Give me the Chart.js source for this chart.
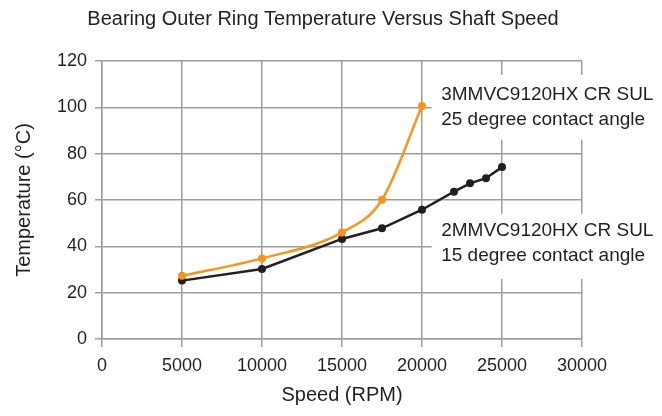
<!DOCTYPE html>
<html>
<head>
<meta charset="utf-8">
<script src="https://cdn.jsdelivr.net/npm/chart.js@4.4.1/dist/chart.umd.min.js"></script>
<style>
  html, body { margin: 0; padding: 0; background: #fff; }
  #wrap { width: 662px; height: 416px; }
</style>
</head>
<body>
<div id="wrap"><canvas id="chart" width="662" height="416"></canvas></div>
<script>
// Data
const speed25 = [5000, 10000, 15000, 17500, 20000];
const temp25 = [27.3, 34.8, 46, 60.1, 100.6];
const speed15 = [5000, 10000, 15000, 17500, 20000, 22000, 23000, 24000, 25000];
const temp15 = [25.2, 30.2, 43.2, 47.8, 55.8, 63.6, 67.2, 69.4, 74.2];

const chartTitle = 'Bearing Outer Ring Temperature Versus Shaft Speed';
const label25 = ['3MMVC9120HX CR SUL', '25 degree contact angle'];
const label15 = ['2MMVC9120HX CR SUL', '15 degree contact angle'];

const FONT = '"Liberation Sans", Arial, sans-serif';
const TEXT = '#231f20';
const GRID = '#9d9d9d';

function toPoints(xs, ys) {
    return xs.map((x, i) => ({ x: x, y: ys[i] }));
}

// Title and the two series labels (white box behind, like the original)
const textPlugin = {
    id: 'texts',
    beforeDatasetsDraw(chart) {
        const ctx = chart.ctx;
        const x = chart.scales.x;
        const y = chart.scales.y;
        ctx.save();

        // white patches that break the grid behind the labels
        ctx.fillStyle = '#fff';
        const boxLeft = x.getPixelForValue(20600);
        ctx.fillRect(boxLeft, y.getPixelForValue(114), chart.width - boxLeft, y.getPixelForValue(86) - y.getPixelForValue(114));
        ctx.fillRect(boxLeft, y.getPixelForValue(54), chart.width - boxLeft, y.getPixelForValue(26) - y.getPixelForValue(54));

        ctx.fillStyle = TEXT;
        ctx.font = '19px ' + FONT;
        ctx.textAlign = 'left';
        ctx.textBaseline = 'middle';
        const lx = x.getPixelForValue(21200);
        ctx.fillText(label25[0], lx, y.getPixelForValue(105.3));
        ctx.fillText(label25[1], lx, y.getPixelForValue(94.6));
        ctx.fillText(label15[0], lx, y.getPixelForValue(46.8));
        ctx.fillText(label15[1], lx, y.getPixelForValue(36.1));
        ctx.restore();
    },
    afterDraw(chart) {
        const ctx = chart.ctx;
        ctx.save();
        ctx.fillStyle = TEXT;
        ctx.font = '20px ' + FONT;
        ctx.textAlign = 'center';
        ctx.textBaseline = 'middle';
        ctx.fillText(chartTitle, 323, 19);
        ctx.restore();
    }
};

new Chart(document.getElementById('chart'), {
    type: 'line',
    data: {
        datasets: [
            {
                label: label25.join(' '),
                data: toPoints(speed25, temp25),
                borderColor: '#f7941d',
                backgroundColor: '#f7941d',
                borderWidth: 2.5,
                pointRadius: 4,
                pointBorderWidth: 0,
                cubicInterpolationMode: 'monotone'
            },
            {
                label: label15.join(' '),
                data: toPoints(speed15, temp15),
                borderColor: TEXT,
                backgroundColor: TEXT,
                borderWidth: 2.5,
                pointRadius: 4,
                pointBorderWidth: 0,
                tension: 0
            }
        ]
    },
    options: {
        responsive: false,
        animation: false,
        devicePixelRatio: 1,
        layout: { padding: { left: 8, right: 80, top: 61, bottom: 5 } },
        plugins: {
            legend: { display: false },
            title: { display: false },
            tooltip: { enabled: false }
        },
        scales: {
            x: {
                type: 'linear',
                min: 0,
                max: 30000,
                afterFit(scale) { scale.height = 72; },
                ticks: {
                    stepSize: 5000,
                    color: TEXT,
                    font: { family: FONT, size: 18 },
                    padding: 8,
                    maxRotation: 0,
                    callback: (v) => String(v)
                },
                grid: { color: GRID, lineWidth: 1.5, tickLength: 8, tickColor: GRID },
                border: { color: GRID, width: 1.5 },
                title: {
                    display: true,
                    text: 'Speed (RPM)',
                    color: TEXT,
                    font: { family: FONT, size: 20 }
                }
            },
            y: {
                min: 0,
                max: 120,
                afterFit(scale) { scale.width = 94; },
                ticks: {
                    stepSize: 20,
                    color: TEXT,
                    font: { family: FONT, size: 18 },
                    padding: 8
                },
                grid: { color: GRID, lineWidth: 1.5, tickLength: 7, tickColor: GRID },
                border: { color: GRID, width: 1.5 },
                title: {
                    display: true,
                    text: 'Temperature (°C)',
                    color: TEXT,
                    font: { family: FONT, size: 20 }
                }
            }
        }
    },
    plugins: [textPlugin]
});
</script>
</body>
</html>
